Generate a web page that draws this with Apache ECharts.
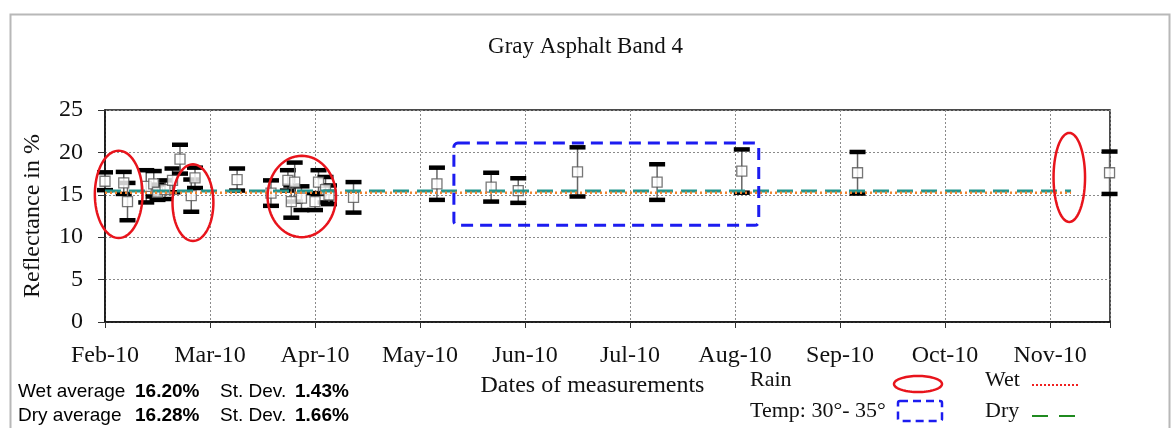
<!DOCTYPE html>
<html>
<head>
<meta charset="utf-8">
<script src="https://cdn.jsdelivr.net/npm/echarts@6/dist/echarts.min.js"></script>
<style>
  html, body { margin: 0; padding: 0; background: #fff; }
  #chart { width: 1171px; height: 428px; }
</style>
</head>
<body>
<div id="chart"></div>
<script>
// Month tick labels (one per month start, Feb 2010 = position 0)
const monthLabels = ['Feb-10', 'Mar-10', 'Apr-10', 'May-10', 'Jun-10',
  'Jul-10', 'Aug-10', 'Sep-10', 'Oct-10', 'Nov-10'];

// Measurement dates, mean reflectance (%) and standard deviation (%)
const measureDates = [
  '2010-02-01', '2010-02-06', '2010-02-07', '2010-02-12', '2010-02-14',
  '2010-02-15', '2010-02-17', '2010-02-19', '2010-02-21', '2010-02-24',
  '2010-02-25', '2010-03-09', '2010-03-19', '2010-03-24', '2010-03-25',
  '2010-03-26', '2010-03-28', '2010-04-01', '2010-04-02', '2010-04-04',
  '2010-04-05', '2010-04-12', '2010-05-06', '2010-05-22', '2010-05-30',
  '2010-06-16', '2010-07-09', '2010-08-03', '2010-09-06', '2010-11-18'
];
const reflectance = [
  16.6, 16.4, 14.2, 16.0, 16.3,
  15.3, 15.6, 16.7, 19.2, 14.9,
  17.0, 16.8, 15.2, 16.7, 14.2,
  16.5, 14.6, 14.2, 16.5, 15.6,
  15.0, 14.7, 16.3, 15.9, 15.5,
  17.7, 16.5, 17.8, 17.6, 17.6
];
const stdDev = [
  1.05, 1.3, 2.2, 1.9, 1.5,
  0.9, 1.1, 1.4, 1.7, 1.9,
  1.2, 1.3, 1.5, 1.2, 1.9,
  2.3, 1.4, 1.0, 1.4, 1.5,
  1.1, 1.8, 1.9, 1.7, 1.45,
  2.9, 2.1, 2.55, 2.45, 2.5
];

// Average lines as drawn on the chart
const dryLineValue = 15.45;
const wetLineValue = 15.25;
const averageLineEnd = '2010-11-07';

// Rain annotations: [start date, end date, low %, high %]
const rainAreas = [
  ['2010-01-29', '2010-02-11', 9.9, 20.2],
  ['2010-02-19', '2010-03-02', 9.55, 18.6],
  ['2010-03-18', '2010-04-07', 10.0, 19.6],
  ['2010-11-02', '2010-11-11', 11.8, 22.3]
];
// High temperature period: [start date, end date, low %, high %]
const tempAreas = [
  ['2010-05-11', '2010-08-08', 11.4, 21.1]
];

const statsText = [
  ['Wet average', '16.20%', '1.43%'],
  ['Dry average', '16.28%', '1.66%']
];

function monthPos(d) {
  const [y, m, day] = d.split('-').map(Number);
  const dim = new Date(y, m, 0).getDate();
  return (y - 2010) * 12 + (m - 2) + (day - 1) / dim;
}

const xMax = 9.571;
const serif = 'Liberation Serif';
const sans = 'Liberation Sans';

const barData = measureDates.map((d, i) => [monthPos(d), reflectance[i] - stdDev[i], reflectance[i] + stdDev[i]]);
const pointData = measureDates.map((d, i) => [monthPos(d), reflectance[i]]);
const rainData = rainAreas.map(a => [monthPos(a[0]), monthPos(a[1]), a[2], a[3]]);
const tempData = tempAreas.map(a => [monthPos(a[0]), monthPos(a[1]), a[2], a[3]]);

function ellipsePoints(cx, cy, rx, ry) {
  const pts = [];
  for (let k = 0; k < 72; k++) {
    const t = k / 72 * Math.PI * 2;
    pts.push([cx + rx * Math.cos(t), cy + ry * Math.sin(t)]);
  }
  return pts;
}

const chart = echarts.init(document.getElementById('chart'));

const graphics = [
  // outer frame
  { type: 'rect', left: 8, top: 12, shape: { width: 1159, height: 430 },
    style: { fill: 'none', stroke: '#b8b8b8', lineWidth: 2 }, silent: true }
];

// stats text, bottom left
statsText.forEach((row, i) => {
  const y = 393 + i * 24;
  graphics.push({ type: 'text', left: 18, top: y - 11,
    style: { text: row[0], font: '19px ' + sans, fill: '#000' } });
  graphics.push({ type: 'text', left: 135, top: y - 11,
    style: { text: row[1], font: 'bold 19px ' + sans, fill: '#000' } });
  graphics.push({ type: 'text', left: 220, top: y - 11,
    style: { text: 'St. Dev.', font: '19px ' + sans, fill: '#000' } });
  graphics.push({ type: 'text', left: 295, top: y - 11,
    style: { text: row[2], font: 'bold 19px ' + sans, fill: '#000' } });
});

// legend block, bottom right
graphics.push(
  { type: 'text', left: 750, top: 369, style: { text: 'Rain', font: '22px ' + serif, fill: '#111' } },
  { type: 'text', left: 750, top: 400, style: { text: 'Temp: 30°- 35°', font: '22px ' + serif, fill: '#111' } },
  { type: 'text', left: 985, top: 369, style: { text: 'Wet', font: '22px ' + serif, fill: '#111' } },
  { type: 'text', left: 985, top: 400, style: { text: 'Dry', font: '22px ' + serif, fill: '#111' } },
  { type: 'polygon', shape: { points: ellipsePoints(918, 384, 24, 8) },
    style: { fill: 'none', stroke: '#e8141c', lineWidth: 2.5 } },
  { type: 'rect', shape: { x: 898, y: 401, width: 44, height: 20, r: 2 },
    style: { fill: 'none', stroke: '#1c1cf0', lineWidth: 2.5, lineDash: [8, 5] } },
  { type: 'line', shape: { x1: 1032, y1: 385, x2: 1078, y2: 385 },
    style: { stroke: '#f02020', lineWidth: 2, lineDash: [2, 2] } },
  { type: 'line', shape: { x1: 1032, y1: 416, x2: 1076, y2: 416 },
    style: { stroke: '#1f8a1f', lineWidth: 2, lineDash: [16, 11] } }
);

const option = {
  animation: false,
  backgroundColor: '#fff',
  title: {
    text: 'Gray Asphalt Band 4',
    left: 'center',
    top: 30,
    textStyle: { fontFamily: serif, fontWeight: 'normal', fontSize: 23, color: '#111' }
  },
  grid: {
    left: 105, right: 61, top: 110, bottom: 106,
    show: true, borderColor: '#111', borderWidth: 1.5, backgroundColor: 'transparent'
  },
  xAxis: {
    type: 'value',
    min: 0,
    max: xMax,
    interval: 1,
    name: 'Dates of measurements',
    nameLocation: 'middle',
    nameGap: 52,
    nameTextStyle: { fontFamily: serif, fontSize: 24, color: '#111', padding: [0, 30, 0, 0] },
    axisLine: { show: true, lineStyle: { color: '#111', width: 1.5 } },
    axisTick: { show: true, length: 6, lineStyle: { color: '#333' } },
    axisLabel: {
      margin: 22,
      fontFamily: serif, fontSize: 24, color: '#111',
      formatter: v => (Math.abs(v - Math.round(v)) < 1e-6 ? (monthLabels[Math.round(v)] || '') : '')
    },
    splitLine: { show: true, lineStyle: { color: '#8a8a8a', width: 1, type: [2, 2] } }
  },
  yAxis: {
    type: 'value',
    min: 0,
    max: 25,
    interval: 5,
    name: 'Reflectance in %',
    nameLocation: 'middle',
    nameRotate: 90,
    nameGap: 60,
    nameTextStyle: { fontFamily: serif, fontSize: 24, color: '#111' },
    axisLine: { show: true, lineStyle: { color: '#111', width: 1.5 } },
    axisTick: { show: true, length: 7, lineStyle: { color: '#333' } },
    axisLabel: { margin: 22, fontFamily: serif, fontSize: 24, color: '#111' },
    splitLine: { show: true, lineStyle: { color: '#8a8a8a', width: 1, type: [2, 2] } }
  },
  graphic: graphics,
  series: [
    {
      name: 'error',
      type: 'custom',
      z: 3,
      data: barData,
      renderItem: (params, api) => {
        const x = api.value(0);
        const lo = api.coord([x, api.value(1)]);
        const hi = api.coord([x, api.value(2)]);
        const half = 8;
        return {
          type: 'group',
          children: [
            { type: 'line', shape: { x1: lo[0], y1: lo[1], x2: hi[0], y2: hi[1] },
              style: { stroke: '#666', lineWidth: 1.5 } },
            { type: 'rect', shape: { x: hi[0] - half, y: hi[1] - 2.25, width: half * 2, height: 4.5 },
              style: { fill: '#000' } },
            { type: 'rect', shape: { x: lo[0] - half, y: lo[1] - 2.25, width: half * 2, height: 4.5 },
              style: { fill: '#000' } }
          ]
        };
      }
    },
    {
      name: 'mean',
      type: 'scatter',
      z: 4,
      symbol: 'rect',
      symbolSize: 10,
      itemStyle: { color: '#fff', borderColor: '#555', borderWidth: 1.3 },
      data: pointData
    },
    {
      name: 'Dry',
      type: 'line',
      z: 5,
      symbol: 'none',
      data: [[0, dryLineValue], [monthPos(averageLineEnd), dryLineValue]],
      lineStyle: { color: '#23958c', width: 3, type: [16, 8] }
    },
    {
      name: 'Wet',
      type: 'line',
      z: 6,
      symbol: 'none',
      data: [[0, wetLineValue], [monthPos(averageLineEnd), wetLineValue]],
      lineStyle: { color: '#f0842e', width: 2.5, type: [2, 3] }
    },
    {
      name: 'Temp',
      type: 'custom',
      z: 7,
      data: tempData,
      renderItem: (params, api) => {
        const p0 = api.coord([api.value(0), api.value(3)]);
        const p1 = api.coord([api.value(1), api.value(2)]);
        return {
          type: 'rect',
          shape: { x: p0[0], y: p0[1], width: p1[0] - p0[0], height: p1[1] - p0[1], r: 4 },
          style: { fill: 'none', stroke: '#1c1cf0', lineWidth: 3, lineDash: [12, 7] }
        };
      }
    },
    {
      name: 'Rain',
      type: 'custom',
      z: 8,
      data: rainData,
      renderItem: (params, api) => {
        const p0 = api.coord([api.value(0), api.value(3)]);
        const p1 = api.coord([api.value(1), api.value(2)]);
        const cx = (p0[0] + p1[0]) / 2;
        const cy = (p0[1] + p1[1]) / 2;
        const rx = Math.abs(p1[0] - p0[0]) / 2;
        const ry = Math.abs(p1[1] - p0[1]) / 2;
        return {
          type: 'polygon',
          shape: { points: ellipsePoints(cx, cy, rx, ry) },
          style: { fill: 'none', stroke: '#e8141c', lineWidth: 2.5 }
        };
      }
    }
  ]
};

chart.setOption(option);
</script>
</body>
</html>
